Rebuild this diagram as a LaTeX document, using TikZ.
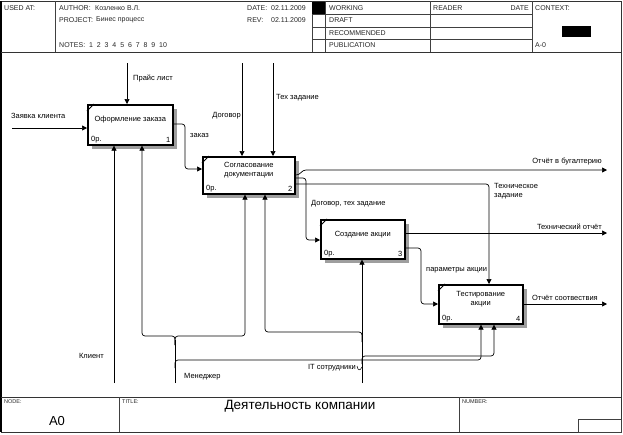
\documentclass[tikz,border=0pt]{standalone}
\usepackage{fontspec}
\setmainfont{Liberation Sans}
\usetikzlibrary{arrows.meta}
\begin{document}
\begin{tikzpicture}[x=1pt,y=-1pt,
  hd/.style={font=\fontsize{7}{8}\selectfont, inner sep=0pt, anchor=west, text=black!85},
  sm/.style={font=\fontsize{5.5}{6}\selectfont, inner sep=0pt, anchor=west, text=black!85},
  lbl/.style={font=\fontsize{7.5}{9}\selectfont, inner sep=0pt, anchor=west},
  fr/.style={line width=0.8pt, draw=black!80},
  frl/.style={line width=0.6pt, draw=black!75},
  fbox/.style={draw, line width=1.6pt, fill=white, inner sep=0pt, anchor=north west},
  shd/.style={fill=black!38},
  arr/.style={-{Triangle[length=5pt,width=5pt]}, line width=0.7pt, rounded corners=3pt},
  ln/.style={line width=0.7pt, rounded corners=3pt}
]
\useasboundingbox (0,0) rectangle (623,434);
% ---------- frame ----------
\draw[fr] (1,1) rectangle (621,432);
\draw[line width=1.4pt] (1,1) -- (1,432);
\draw[fr] (1,52) -- (621,52);
\draw[frl] (55,1) -- (55,52);
\draw[frl] (312,1) -- (312,52);
\draw[frl] (325,1) -- (325,52);
\draw[frl] (430,1) -- (430,52);
\draw[frl] (532,1) -- (532,52);
\foreach \yy in {14,27,39} \draw[frl] (312,\yy) -- (532,\yy);
\fill[black] (312,2) rectangle (325,14);
\fill[black] (562,26) rectangle (591,37);
% header texts
\node[hd] (usedat) at (4,8) {USED AT:};
\node[hd] (author) at (59,8) {AUTHOR:};
\node[hd] (authorv) at (95,8) {Козленко В.Л.};
\node[hd] (date) at (247,8) {DATE:};
\node[hd] (datev) at (271,8) {02.11.2009};
\node[hd] (project) at (59,20) {PROJECT:};
\node[hd] (projectv) at (96,20) {Бинес процесс};
\node[hd] (rev) at (247,20) {REV:};
\node[hd] (revv) at (271,20) {02.11.2009};
\node[hd] (notes) at (59,45) {NOTES:\ \ 1\ \ 2\ \ 3\ \ 4\ \ 5\ \ 6\ \ 7\ \ 8\ \ 9\ \ 10};
\node[hd] (working) at (329,8) {WORKING};
\node[hd] (draft) at (329,20) {DRAFT};
\node[hd] (recom) at (329,33) {RECOMMENDED};
\node[hd] (publ) at (329,45) {PUBLICATION};
\node[hd] (reader) at (433,8) {READER};
\node[hd, anchor=east] (rdate) at (529,8) {DATE};
\node[hd] (context) at (535,8) {CONTEXT:};
\node[hd] (actx) at (535,45) {A-0};
% footer
\draw[fr] (1,397) -- (621,397);
\draw[frl] (119,397) -- (119,432);
\draw[frl] (459,397) -- (459,432);
\draw[frl] (578,419) rectangle (621,432);
\node[sm] (nodel) at (4,402) {NODE:};
\node[sm] (titlel) at (122,402) {TITLE:};
\node[sm] (numl) at (462,402) {NUMBER:};
\node[font=\fontsize{13}{15}\selectfont, inner sep=0pt] (a0) at (57,421) {A0};
\node[font=\fontsize{13.5}{15}\selectfont, inner sep=0pt] (title) at (300,406) {Деятельность компании};
% ---------- shadows ----------
\fill[shd] (92,109) rectangle (177,149);
\fill[shd] (207,161) rectangle (299,198);
\fill[shd] (325,224) rectangle (409,263);
\fill[shd] (443,289) rectangle (527,328);
% ---------- boxes ----------
\node[fbox, minimum width=85pt, minimum height=40pt] (b1) at (87,104) {};
\node[fbox, minimum width=92pt, minimum height=37pt] (b2) at (202,156) {};
\node[fbox, minimum width=84pt, minimum height=39pt] (b3) at (320,219) {};
\node[fbox, minimum width=84pt, minimum height=39pt] (b4) at (438,284) {};
\foreach \b/\n in {b1/1,b2/2,b3/3,b4/4}{
  \draw[line width=0.8pt] ([yshift=-7pt]\b.north west) -- ([xshift=7pt]\b.north west);
  \node[lbl, anchor=south west] at ([xshift=4pt,yshift=2.5pt]\b.south west) {0р.};
  \node[lbl, anchor=south east] at ([xshift=-3pt,yshift=2.5pt]\b.south east) {\n};
}
\node[lbl, anchor=center, align=center] (t1) at ([yshift=5pt]b1.center) {Оформление заказа};
\node[lbl, anchor=center, align=center] (t2) at ([yshift=5pt]b2.center) {Согласование\\документации};
\node[lbl, anchor=center, align=center] (t3) at ([yshift=5pt]b3.center) {Создание акции};
\node[lbl, anchor=center, align=center] (t4) at ([yshift=5pt]b4.center) {Тестирование\\акции};
% ---------- free ends ----------
\coordinate (inA) at (12,128);
\coordinate (cP) at (127,63);
\coordinate (cD) at (242,63);
\coordinate (cT) at (273,63);
\coordinate (oR1) at (607,170);
\coordinate (oR2) at (607,233);
\coordinate (oR3) at (607,304);
\coordinate (mK) at (114,383);
\coordinate (mM) at (175,383);
\coordinate (mI) at (362,383);
% ---------- arrows ----------
\draw[arr] (inA) -- (inA -| b1.west);
\draw[arr] (cP) -- (cP |- b1.north);
\draw[arr] (cD) -- (cD |- b2.north);
\draw[arr] (cT) -- (cT |- b2.north);
\draw[arr] (b1.east |- 0,124) -- (185,124) -- (185,169) -- (b2.west |- 0,169);
\draw[arr] (b2.east |- 0,175) -- (299,175) -- (303,170) -- (oR1);
\draw[arr] (b2.east |- 0,178) -- (306,178) -- (306,240) -- (b3.west |- 0,240);
\draw[arr] (b2.east |- 0,184) -- (489,184) -- (489,184 |- b4.north);
\draw[arr] (b3.east |- 0,233) -- (oR2);
\draw[arr] (b3.east |- 0,248) -- (421,248) -- (421,304) -- (b4.west |- 0,304);
\draw[arr] (b4.east |- 0,304) -- (oR3);
% mechanisms
\draw[arr] (mK) -- (mK |- b1.south);
\draw[ln] (mM) -- (175,340);
\draw[arr] (175,345) -- (175,336) -- (142,336) -- (142,336 |- b1.south);
\draw[arr] (175,345) -- (175,336) -- (245,336) -- (245,336 |- b2.south);
\draw[arr] (175,368) -- (175,360) -- (481,360) -- (481,360 |- b4.south);
\draw[arr] (mI) -- (mI |- b3.south);
\draw[arr] (362,342) -- (362,332) -- (265,332) -- (265,332 |- b2.south);
\draw[arr] (362,364) -- (362,356) -- (494,356) -- (494,356 |- b4.south);
% ---------- labels ----------
\node[lbl] (lZ) at (11,116) {Заявка клиента};
\node[lbl] (lP) at (133,78) {Прайс лист};
\node[lbl, anchor=east] (lD) at (241,116) {Договор};
\node[lbl] (lT) at (276,98) {Тех задание};
\node[lbl] (lz) at (190,136) {заказ};
\node[lbl, anchor=east] (lO1) at (602,162) {Отчёт в бугалтерию};
\node[lbl, align=left, anchor=north west] (lTZ) at (494,183) {Техническое\\задание};
\node[lbl] (lDT) at (311,204) {Договор, тех задание};
\node[lbl, anchor=east] (lO2) at (602,227) {Технический отчёт};
\node[lbl] (lPA) at (426,270) {параметры акции};
\node[lbl, anchor=east] (lO3) at (598,298) {Отчёт соотвествия};
\node[lbl, anchor=east] (lK) at (104,356) {Клиент};
\node[lbl] (lM) at (184,377) {Менеджер};
\node[lbl, anchor=east] (lIT) at (356,368) {IT сотрудники};
\draw[line width=0.5pt] (357,366) .. controls (358,371) and (360,371) .. (362,367);
\end{tikzpicture}
\end{document}
